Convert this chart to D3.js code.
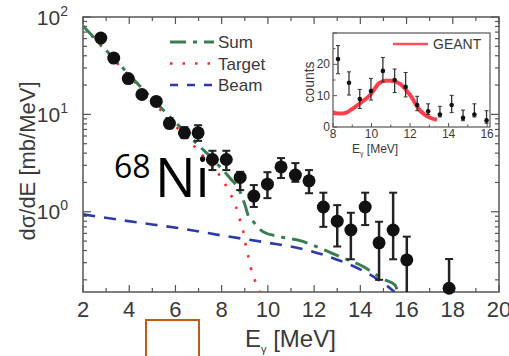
<!DOCTYPE html>
<html>
<head>
<meta charset="utf-8">
<script src="https://cdn.jsdelivr.net/npm/d3@7"></script>
<style>
  body { margin: 0; background: #fff; }
  svg { display: block; font-family: "Liberation Sans", Arial, sans-serif; }
</style>
</head>
<body>
<svg id="chart" width="509" height="356"></svg>
<script>
// measured points (main panel)
const dataE   = [2.77, 3.33, 3.96, 4.55, 5.17, 5.74, 6.39, 6.98, 7.60, 8.20, 8.80, 9.39, 9.98, 10.57, 11.19, 11.78, 12.40, 13.00, 13.59, 14.21, 14.81, 15.42, 16.01, 17.84] ;
const dataVal = [60.9, 37.9, 23.3, 16.0, 13.6, 8.07, 6.46, 6.46, 3.44, 3.44, 2.25, 1.45, 1.92, 2.89, 2.38, 2.08, 1.12, 0.80, 0.65, 1.12, 0.48, 0.65, 0.32, 0.164] ;
const dataLo  = [56, 35, 21.5, 14.8, 12.5, 7.21, 5.70, 5.35, 2.68, 2.68, 1.67, 1.12, 1.38, 2.22, 2.03, 1.55, 0.70, 0.44, 0.325, 0.73, 0.20, 0.325, 0.1, 0.1] ;
const dataHi  = [66, 41, 25, 17.3, 14.8, 9.15, 7.39, 7.74, 4.23, 4.23, 2.57, 1.88, 2.55, 3.56, 3.16, 2.68, 1.57, 1.17, 0.977, 1.57, 0.79, 1.57, 0.555, 0.327] ;

// model curves
const sumE    = [2, 3, 4, 5, 6, 7, 7.5, 7.93, 8.36, 8.80, 9.01, 9.16, 9.37, 9.81, 10.53, 11.39, 12.40, 13.13, 14.13, 15.0, 15.5, 15.6] ;
const sumVal  = [81, 45.5, 25.5, 14.4, 8.3, 4.8, 3.7, 2.89, 2.22, 1.60, 1.17, 0.90, 0.79, 0.62, 0.555, 0.505, 0.41, 0.345, 0.273, 0.203, 0.177, 0.155] ;
const targetE   = [2, 3, 4, 5, 6, 7, 7.5, 8.0, 8.3, 8.61, 8.78, 8.93, 9.03, 9.15, 9.26, 9.43, 9.65] ;
const targetVal = [80, 44.5, 24.7, 13.7, 7.6, 4.2, 3.1, 2.2, 1.65, 1.14, 0.84, 0.63, 0.47, 0.35, 0.265, 0.2, 0.15] ;
const beamE   = [2.01, 4.31, 6.19, 8.06, 9.87, 11.68, 13.13, 13.99, 14.78, 15.29, 15.48] ;
const beamVal = [0.94, 0.78, 0.676, 0.568, 0.486, 0.405, 0.314, 0.256, 0.20, 0.164, 0.15] ;

// inset
const insetE   = [8.26, 8.83, 9.39, 9.97, 10.59, 11.2, 11.77, 12.37, 12.94, 13.55, 14.16, 14.75, 15.34, 15.97] ;
const insetCnt = [21.7, 14.1, 8.9, 11.5, 17.9, 15.0, 12.8, 7.0, 5.0, 4.0, 7.0, 2.9, 4.0, 2.1] ;
const insetLo  = [17, 10.2, 5.9, 8.6, 14.4, 11.0, 9.6, 5.2, 4.0, 3.2, 4.6, 2.0, 3.2, 1.2] ;
const insetHi  = [26, 17.6, 12, 15.5, 22.2, 18.5, 17.4, 9.8, 7.4, 6.6, 10.1, 5.4, 7.4, 5.2] ;
const geantE   = [8, 8.5, 9.1, 9.5, 9.9, 10.4, 10.7, 11.0, 11.5, 12.0, 12.5, 13.1, 13.4] ;
const geantCnt = [4.5, 4.3, 6.2, 8.0, 10.0, 14.0, 14.8, 14.8, 13.7, 10.2, 5.4, 2.8, 2.3] ;

const xTicks = [2, 4, 6, 8, 10, 12, 14, 16, 18, 20] ;
const yDecades = [0, 1, 2] ;
const insetXTicks = [8, 10, 12, 14, 16] ;
const insetYTicks = [0, 10, 20] ;
const legendItems = ['Sum', 'Target', 'Beam'] ;

const svg = d3.select('#chart') ;
const x = d3.scaleLinear().domain([2, 20]).range([83, 499]) ;
const y = d3.scaleLog().domain([0.15, 100]).range([292, 17]) ;
const frameCol = '#555' ;
const textCol = '#3a3a3a' ;

svg.append('defs').append('clipPath').attr('id', 'clipMain')
	.append('rect').attr('x', 83).attr('y', 17).attr('width', 416).attr('height', 275) ;

// ticks, all sides, inward
const minorX = d3.range(2, 21, 1) ;
const minorY = [] ;
[-1, 0, 1].forEach(p => { for (let k = 1; k < 10; ++k) { let v = k * Math.pow(10, p) ; if (v >= 0.15 && v <= 100) minorY.push(v) ; } }) ;
minorY.push(100) ;

const tickG = svg.append('g').attr('stroke', frameCol).attr('stroke-width', 1.2) ;
minorX.forEach(d => {
	let len = (d % 2 == 0) ? 7 : 4 ;
	tickG.append('line').attr('x1', x(d)).attr('x2', x(d)).attr('y1', 292).attr('y2', 292 - len) ;
	tickG.append('line').attr('x1', x(d)).attr('x2', x(d)).attr('y1', 17).attr('y2', 17 + len) ;
}) ;
minorY.forEach(d => {
	let major = Math.abs(Math.log10(d) - Math.round(Math.log10(d))) < 1e-6 ;
	let len = major ? 8 : 4 ;
	tickG.append('line').attr('x1', 83).attr('x2', 83 + len).attr('y1', y(d)).attr('y2', y(d)) ;
	tickG.append('line').attr('x1', 499).attr('x2', 499 - len).attr('y1', y(d)).attr('y2', y(d)) ;
}) ;

svg.append('rect').attr('x', 83).attr('y', 17).attr('width', 416).attr('height', 275)
	.attr('fill', 'none').attr('stroke', frameCol).attr('stroke-width', 1.5) ;

// tick labels
svg.append('g').selectAll('text').data(xTicks).enter().append('text')
	.attr('x', d => x(d)).attr('y', 317).attr('text-anchor', 'middle')
	.attr('font-size', 22).attr('fill', textCol).text(d => d) ;

const yl = svg.append('g').selectAll('text').data(yDecades).enter().append('text')
	.attr('x', 68).attr('y', d => y(Math.pow(10, d)) + 7.5).attr('text-anchor', 'end')
	.attr('font-size', 21).attr('fill', textCol) ;
yl.append('tspan').text('10') ;
yl.append('tspan').attr('font-size', 14).attr('dy', -9).text(d => d) ;

// axis titles
svg.append('text').attr('transform', 'translate(35,161) rotate(-90)')
	.attr('text-anchor', 'middle').attr('font-size', 22).attr('fill', textCol)
	.text('dσ/dE [mb/MeV]') ;
const xt = svg.append('text').attr('x', 245).attr('y', 347).attr('font-size', 24).attr('fill', textCol) ;
xt.append('tspan').text('E') ;
xt.append('tspan').attr('font-size', 11).attr('dy', 6).text('γ') ;
xt.append('tspan').attr('dy', -6).text(' [MeV]') ;

// curves
const line = d3.line().x(d => x(d[0])).y(d => y(d[1])).curve(d3.curveMonotoneX) ;
const curves = svg.append('g').attr('clip-path', 'url(#clipMain)').attr('fill', 'none') ;
curves.append('path').datum(d3.zip(beamE, beamVal)).attr('d', line)
	.attr('stroke', '#2d3aa8').attr('stroke-width', 2.6).attr('stroke-dasharray', '12,9') ;
curves.append('path').datum(d3.zip(targetE, targetVal)).attr('d', line)
	.attr('stroke', '#ff2a2a').attr('stroke-width', 2.6).attr('stroke-dasharray', '2.5,10') ;
curves.append('path').datum(d3.zip(sumE, sumVal)).attr('d', line)
	.attr('stroke', '#3b7d52').attr('stroke-width', 3).attr('stroke-dasharray', '16,7,4,7') ;

// data points
const pts = svg.append('g').attr('clip-path', 'url(#clipMain)') ;
dataE.forEach((e, i) => {
	pts.append('line').attr('x1', x(e)).attr('x2', x(e)).attr('y1', y(dataLo[i])).attr('y2', y(dataHi[i]))
		.attr('stroke', '#222').attr('stroke-width', 2.5) ;
	[dataLo[i], dataHi[i]].forEach(v => {
		pts.append('line').attr('x1', x(e) - 4).attr('x2', x(e) + 4).attr('y1', y(v)).attr('y2', y(v))
			.attr('stroke', '#222').attr('stroke-width', 2) ;
	}) ;
}) ;
svg.append('g').selectAll('circle').data(dataE).enter().append('circle')
	.attr('cx', d => x(d)).attr('cy', (d, i) => y(dataVal[i])).attr('r', 6.5).attr('fill', '#111') ;

// legend
const legStyles = [
	{ col: '#3b7d52', dash: '16,7,4,7', w: 3 },
	{ col: '#ff2a2a', dash: '2.5,10', w: 2.6 },
	{ col: '#2d3aa8', dash: '8,9', w: 2.6 }
] ;
const leg = svg.append('g') ;
legendItems.forEach((name, i) => {
	let yy = 42 + i * 21.5 ;
	leg.append('line').attr('x1', 170).attr('x2', 214).attr('y1', yy).attr('y2', yy)
		.attr('stroke', legStyles[i].col).attr('stroke-width', legStyles[i].w).attr('stroke-dasharray', legStyles[i].dash) ;
	leg.append('text').attr('x', 218).attr('y', yy + 6).attr('font-size', 17).attr('fill', textCol).text(name) ;
}) ;

// 68Ni label
const nf = '"Open Sans", "Noto Sans", sans-serif' ;
svg.append('text').attr('x', 114).attr('y', 178).attr('font-family', nf)
	.attr('font-size', 32).attr('fill', '#000').text('68') ;
svg.append('text').attr('x', 155).attr('y', 197).attr('font-family', nf)
	.attr('font-size', 54).attr('fill', '#000').text('Ni') ;

// inset
const xi = d3.scaleLinear().domain([8, 16.15]).range([333, 490]) ;
const yi = d3.scaleLinear().domain([0, 30]).range([127, 33]) ;
const ins = svg.append('g') ;
ins.append('rect').attr('x', 333).attr('y', 33).attr('width', 157).attr('height', 94)
	.attr('fill', '#fff').attr('stroke', frameCol).attr('stroke-width', 1.2) ;
d3.range(8, 17, 1).forEach(d => {
	let len = (d % 2 == 0) ? 4 : 2.5 ;
	ins.append('line').attr('x1', xi(d)).attr('x2', xi(d)).attr('y1', 127).attr('y2', 127 - len)
		.attr('stroke', frameCol) ;
}) ;
d3.range(0, 31, 5).forEach(d => {
	let len = (d % 10 == 0) ? 4 : 2.5 ;
	ins.append('line').attr('x1', 333).attr('x2', 333 + len).attr('y1', yi(d)).attr('y2', yi(d))
		.attr('stroke', frameCol) ;
}) ;
ins.selectAll('text.xt').data(insetXTicks).enter().append('text').attr('class', 'xt')
	.attr('x', d => xi(d)).attr('y', 138).attr('text-anchor', 'middle')
	.attr('font-size', 12).attr('fill', textCol).text(d => d) ;
ins.selectAll('text.yt').data(insetYTicks).enter().append('text').attr('class', 'yt')
	.attr('x', 330).attr('y', d => yi(d) + 4).attr('text-anchor', 'end')
	.attr('font-size', 12).attr('fill', textCol).text(d => d) ;
ins.append('text').attr('transform', 'translate(314,82) rotate(-90)').attr('text-anchor', 'middle')
	.attr('font-size', 14).attr('fill', textCol).text('counts') ;
const ixt = ins.append('text').attr('x', 352).attr('y', 153).attr('font-size', 12).attr('fill', textCol) ;
ixt.append('tspan').text('E') ;
ixt.append('tspan').attr('font-size', 7).attr('dy', 3).text('γ') ;
ixt.append('tspan').attr('dy', -3).text(' [MeV]') ;

const iline = d3.line().x(d => xi(d[0])).y(d => yi(d[1])).curve(d3.curveMonotoneX) ;
ins.append('path').datum(d3.zip(geantE, geantCnt)).attr('d', iline)
	.attr('fill', 'none').attr('stroke', '#ff2a3a').attr('stroke-width', 4).attr('stroke-opacity', 0.9) ;
insetE.forEach((e, i) => {
	ins.append('line').attr('x1', xi(e)).attr('x2', xi(e)).attr('y1', yi(insetLo[i])).attr('y2', yi(insetHi[i]))
		.attr('stroke', '#333').attr('stroke-width', 1.3) ;
	[insetLo[i], insetHi[i]].forEach(v => {
		ins.append('line').attr('x1', xi(e) - 2).attr('x2', xi(e) + 2).attr('y1', yi(v)).attr('y2', yi(v))
			.attr('stroke', '#333').attr('stroke-width', 1) ;
	}) ;
	ins.append('circle').attr('cx', xi(e)).attr('cy', yi(insetCnt[i])).attr('r', 2.3).attr('fill', '#111') ;
}) ;
ins.append('line').attr('x1', 393).attr('x2', 428).attr('y1', 44).attr('y2', 44)
	.attr('stroke', '#ff5060').attr('stroke-width', 2.5) ;
ins.append('text').attr('x', 433).attr('y', 49).attr('font-size', 14).attr('fill', textCol).text('GEANT') ;

// orange box
svg.append('rect').attr('x', 146).attr('y', 320).attr('width', 53).attr('height', 45)
	.attr('fill', 'none').attr('stroke', '#c55a11').attr('stroke-width', 2) ;
</script>
</body>
</html>
